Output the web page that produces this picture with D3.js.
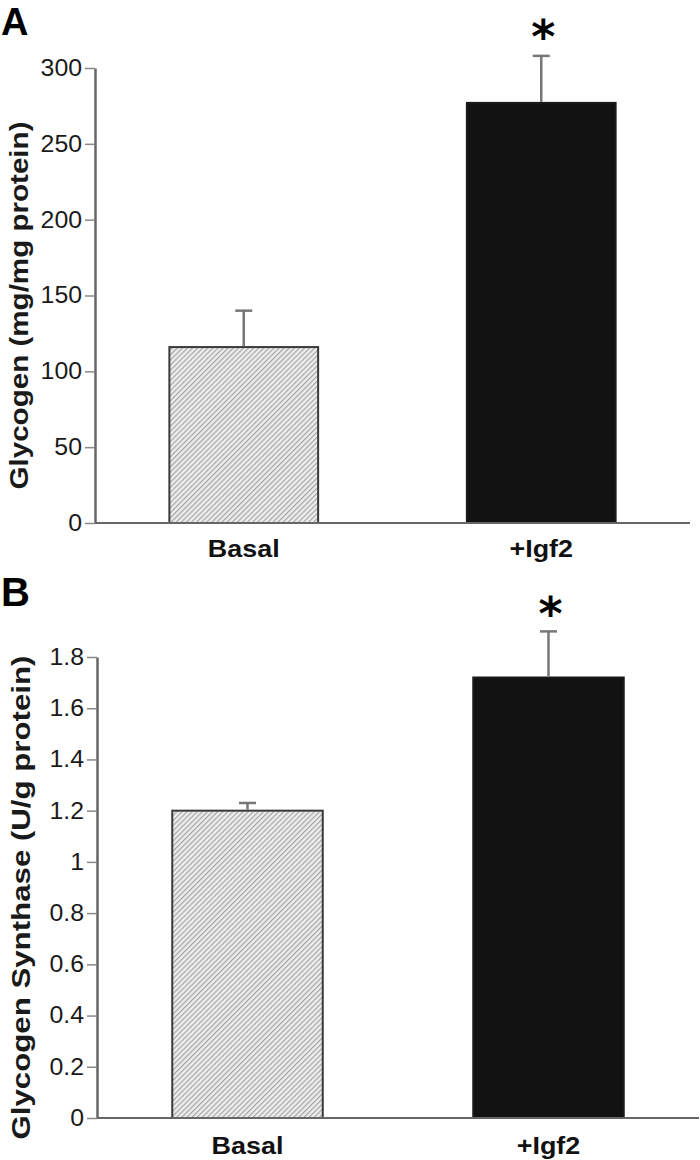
<!DOCTYPE html>
<html><head><meta charset="utf-8">
<script src="https://cdn.jsdelivr.net/npm/d3@7"></script>
<style>body{margin:0;background:#fff} svg{display:block}</style>
</head><body>
<svg id="c" width="700" height="1160"></svg>
<script>
// ---- data ----
const categories = ["Basal", "+Igf2"];
const glycogenMeans = [116, 277];
const glycogenSEM = [24, 31];
const glycogenTicks = [0, 50, 100, 150, 200, 250, 300];
const synthaseMeans = [1.2, 1.72];
const synthaseSEM = [0.03, 0.18];
const synthaseTicks = [0, 0.2, 0.4, 0.6, 0.8, 1, 1.2, 1.4, 1.6, 1.8];
const significant = [false, true];
const panelLetters = ["A", "B"];
const yTitles = ["Glycogen (mg/mg protein)", "Glycogen Synthase (U/g protein)"];

// ---- layout ----
const panels = [
  {letter: panelLetters[0], title: yTitles[0], means: glycogenMeans, sem: glycogenSEM, ticks: glycogenTicks,
   domain: [0, 300], x0: 95, x1: 690, yTop: 68, yBottom: 523, letterY: 35, letterSize: 38, titleX: 28, titleLen: 368, labelY: 557, starY: 29},
  {letter: panelLetters[1], title: yTitles[1], means: synthaseMeans, sem: synthaseSEM, ticks: synthaseTicks,
   domain: [0, 1.8], x0: 97, x1: 699, yTop: 657, yBottom: 1118, letterY: 606, letterSize: 40, titleX: 30, titleLen: 484, labelY: 1154, starY: 606}
];

const svg = d3.select("#c");
const defs = svg.append("defs");
const pat = defs.append("pattern").attr("id", "hatch").attr("patternUnits", "userSpaceOnUse")
  .attr("width", 3.6).attr("height", 10).attr("patternTransform", "rotate(45)");
pat.append("rect").attr("width", 3.6).attr("height", 10).attr("fill", "#ededed");
pat.append("line").attr("x1", 0.6).attr("x2", 0.6).attr("y1", 0).attr("y2", 10)
  .attr("stroke", "#a0a0a0").attr("stroke-width", 1.1);

const FONT = "'Liberation Sans', Arial, Helvetica, sans-serif";

panels.forEach(p => {
  const g = svg.append("g");
  const x = d3.scaleBand().domain(categories).range([p.x0, p.x1]).paddingInner(0.5).paddingOuter(0.25);
  const y = d3.scaleLinear().domain(p.domain).range([p.yBottom, p.yTop]);

  // bars
  g.selectAll("rect.bar").data(categories).join("rect").attr("class", "bar")
    .attr("x", d => x(d)).attr("width", x.bandwidth())
    .attr("y", (d, i) => y(p.means[i])).attr("height", (d, i) => y(0) - y(p.means[i]))
    .attr("fill", (d, i) => i === 0 ? "url(#hatch)" : "#121212")
    .attr("stroke", (d, i) => i === 0 ? "#3a3a3a" : "#1a1a1a").attr("stroke-width", 2);

  // error bars
  const eb = g.selectAll("g.err").data(categories).join("g").attr("class", "err");
  eb.append("line").attr("x1", d => x(d) + x.bandwidth() / 2).attr("x2", d => x(d) + x.bandwidth() / 2)
    .attr("y1", (d, i) => y(p.means[i]) - 1).attr("y2", (d, i) => y(p.means[i] + p.sem[i]))
    .attr("stroke", "#777").attr("stroke-width", 2.5);
  eb.append("line").attr("x1", d => x(d) + x.bandwidth() / 2 - 8.5).attr("x2", d => x(d) + x.bandwidth() / 2 + 8.5)
    .attr("y1", (d, i) => y(p.means[i] + p.sem[i])).attr("y2", (d, i) => y(p.means[i] + p.sem[i]))
    .attr("stroke", "#777").attr("stroke-width", 2.5);

  // significance star
  g.selectAll("text.star").data(categories.filter((d, i) => significant[i])).join("text").attr("class", "star")
    .attr("x", d => x(d) + x.bandwidth() / 2 + 2).attr("y", p.starY + 24)
    .attr("text-anchor", "middle").attr("font-family", "'DejaVu Sans', sans-serif").attr("font-weight", "bold")
    .attr("font-size", 46).attr("fill", "#000").text("*");

  // x axis line
  g.append("line").attr("x1", p.x0).attr("x2", p.x1).attr("y1", p.yBottom).attr("y2", p.yBottom)
    .attr("stroke", "#666").attr("stroke-width", 2);

  // y axis
  const ax = g.append("g").attr("transform", `translate(${p.x0},0)`)
    .call(d3.axisLeft(y).tickValues(p.ticks).tickFormat(d => String(d)).tickSize(10).tickSizeOuter(0).tickPadding(3));
  ax.select(".domain").attr("stroke", "#666").attr("stroke-width", 2.5);
  ax.selectAll(".tick line").attr("stroke", "#888").attr("stroke-width", 1.5);
  ax.selectAll(".tick text").attr("font-family", FONT).attr("font-size", 23).attr("fill", "#1a1a1a")
    .each(function () { const w = this.getComputedTextLength(); d3.select(this).attr("textLength", w * 1.08).attr("lengthAdjust", "spacingAndGlyphs"); });

  // category labels
  g.selectAll("text.cat").data(categories).join("text").attr("class", "cat")
    .attr("x", d => x(d) + x.bandwidth() / 2).attr("y", p.labelY).attr("text-anchor", "middle")
    .attr("font-family", FONT).attr("font-weight", "bold").attr("font-size", 24).attr("fill", "#111")
    .text(d => d)
    .each(function () { const w = this.getComputedTextLength(); d3.select(this).attr("textLength", w * 1.12).attr("lengthAdjust", "spacingAndGlyphs"); });

  // y title
  g.append("text").attr("transform", `translate(${p.titleX},${(p.yTop + p.yBottom) / 2 + 10}) rotate(-90)`)
    .attr("text-anchor", "middle").attr("font-family", FONT).attr("font-weight", "bold").attr("font-size", 25)
    .attr("fill", "#1a1a1a").attr("textLength", p.titleLen).attr("lengthAdjust", "spacingAndGlyphs").text(p.title);

  // panel letter
  g.append("text").attr("x", 1).attr("y", p.letterY).attr("font-family", FONT).attr("font-weight", "bold")
    .attr("font-size", p.letterSize).attr("fill", "#000").text(p.letter);
});
</script>
</body></html>
